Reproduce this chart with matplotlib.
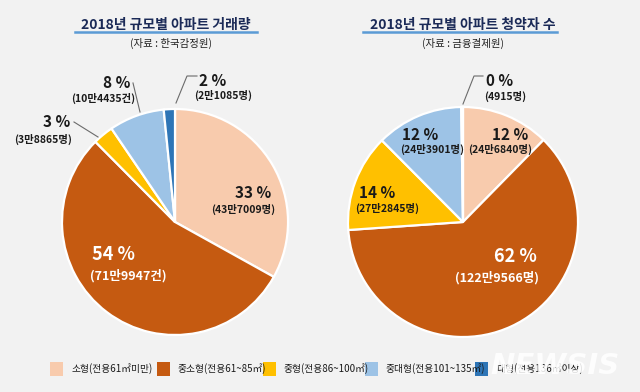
import matplotlib
matplotlib.use("Agg")
import matplotlib.pyplot as plt

plt.rcParams['font.family'] = ['Liberation Sans Narrow', 'Noto Sans CJK KR', 'DejaVu Sans']

categories = ["소형(전용61㎡미만)", "중소형(전용61~85㎡)", "중형(전용86~100㎡)",
              "중대형(전용101~135㎡)", "대형(전용136㎡이상)"]
colors = ["#F8CBAD", "#C55A11", "#FFC000", "#9DC3E6", "#2E75B6"]

left_values = [437009, 719947, 38865, 104435, 21085]
left_pct = ["33 %", "54 %", "3 %", "8 %", "2 %"]
left_sub = ["(43만7009명)", "(71만9947건)", "(3만8865명)", "(10만4435건)", "(2만1085명)"]

right_values = [246840, 1229566, 272845, 243901, 4915]
right_pct = ["12 %", "62 %", "14 %", "12 %", "0 %"]
right_sub = ["(24만6840명)", "(122만9566명)", "(27만2845명)", "(24만3901명)", "(4915명)"]

left_title = "2018년 규모별 아파트 거래량"
left_source = "(자료 : 한국감정원)"
right_title = "2018년 규모별 아파트 청약자 수"
right_source = "(자료 : 금융결제원)"

W, H = 640, 392
fig = plt.figure(figsize=(W / 100, H / 100), dpi=100, facecolor="#F2F2F2")
ax = fig.add_axes([0, 0, 1, 1])
ax.set_facecolor("#F2F2F2")


def Y(y):
    return H - y


wp = dict(edgecolor="white", linewidth=1.6)
ax.pie(left_values, colors=colors, startangle=90, counterclock=False,
       center=(175, Y(222)), radius=113, explode=[0.04, 0, 0, 0, 0],
       wedgeprops=wp, frame=True)
ax.pie(right_values, colors=colors, startangle=90, counterclock=False,
       center=(463, Y(222)), radius=115, wedgeprops=wp, frame=True)

ax.set_xlim(0, W)
ax.set_ylim(0, H)
ax.set_aspect("equal")
ax.axis("off")

dark = "#1a1a1a"
lead = "#6b6b6b"
PS, SS, PB, SB = 11, 7.5, 13, 9


def label(x, y, text, size, color=dark):
    ax.text(x, Y(y), text, ha="center", va="center", fontsize=size,
            fontweight="bold", color=color)


# left pie labels
label(253, 193, left_pct[0], PS); label(243, 209, left_sub[0], SS)
label(113, 254, left_pct[1], PB, "white"); label(128, 276, left_sub[1], SB, "white")
label(57, 122, left_pct[2], PS); label(43, 139, left_sub[2], SS)
label(117, 83, left_pct[3], PS); label(103, 98, left_sub[3], SS)
label(213, 81, left_pct[4], PS); label(223, 95, left_sub[4], SS)

ax.plot([74, 98], [Y(122), Y(137)], color=lead, lw=0.8)
ax.plot([133, 140], [Y(83), Y(112)], color=lead, lw=0.8)
ax.plot([197, 187, 176], [Y(76), Y(76), Y(103)], color=lead, lw=0.8)

# right pie labels
label(510, 135, right_pct[0], PS); label(500, 149, right_sub[0], SS)
label(515, 257, right_pct[1], PB, "white"); label(497, 278, right_sub[1], SB, "white")
label(377, 193, right_pct[2], PS); label(387, 208, right_sub[2], SS)
label(420, 135, right_pct[3], PS); label(432, 149, right_sub[3], SS)
label(500, 81, right_pct[4], PS); label(505, 96, right_sub[4], SS)

ax.plot([483, 474, 463], [Y(76), Y(76), Y(104)], color=lead, lw=0.8)

# titles
navy = "#1B2A57"
line_blue = "#5B9BD5"
title_font = ['Noto Sans CJK KR', 'DejaVu Sans']
ax.text(166, Y(25), left_title, ha="center", va="center", fontsize=10, fontweight="bold",
        color=navy, family=title_font)
ax.plot([75, 257], [Y(32), Y(32)], color=line_blue, lw=1.8)
ax.text(171, Y(43), left_source, ha="center", va="center", fontsize=7.5,
        color="#222222", family=title_font)

ax.text(463, Y(25), right_title, ha="center", va="center", fontsize=10, fontweight="bold",
        color=navy, family=title_font)
ax.plot([363, 557], [Y(32), Y(32)], color=line_blue, lw=1.8)
ax.text(463, Y(43), right_source, ha="center", va="center", fontsize=7.5,
        color="#222222", family=title_font)

# legend
leg_x = [50, 157, 263, 365, 475]
for x, c, t in zip(leg_x, colors, categories):
    ax.add_patch(plt.Rectangle((x, Y(376)), 13, 14, facecolor=c, edgecolor="none"))
    ax.text(x + 21, Y(369), t, ha="left", va="center", fontsize=7, color="#1a1a1a",
            family=title_font)

# watermark
ax.text(555, Y(366), "NEWSIS", ha="center", va="center", fontsize=21, fontweight="bold",
        fontstyle="italic", color="white", alpha=0.85, family=['DejaVu Sans'])

fig.savefig("out.png", dpi=100, facecolor=fig.get_facecolor())
